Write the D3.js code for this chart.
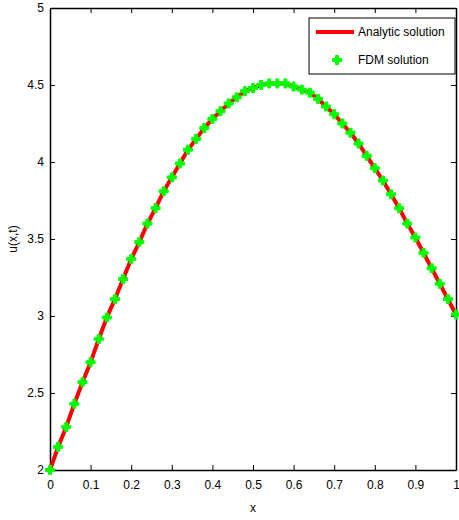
<!DOCTYPE html>
<html>
<head>
<meta charset="utf-8">
<script src="https://cdn.jsdelivr.net/npm/d3@7"></script>
<style>
  body { margin: 0; background: #fff; }
  text { font-family: "Liberation Sans", Arial, sans-serif; }
</style>
</head>
<body>
<div id="chart"></div>
<script>
// x positions of the grid nodes
var xValues = [0, 0.02, 0.04, 0.06, 0.08, 0.10, 0.12, 0.14, 0.16, 0.18,
  0.20, 0.22, 0.24, 0.26, 0.28, 0.30, 0.32, 0.34, 0.36, 0.38,
  0.40, 0.42, 0.44, 0.46, 0.48, 0.50, 0.52, 0.54, 0.56, 0.58,
  0.60, 0.62, 0.64, 0.66, 0.68, 0.70, 0.72, 0.74, 0.76, 0.78,
  0.80, 0.82, 0.84, 0.86, 0.88, 0.90, 0.92, 0.94, 0.96, 0.98, 1.00];

// analytic solution u(x,t)
var analyticValues = [2.00, 2.15, 2.28, 2.43, 2.57, 2.70, 2.85, 2.99, 3.11, 3.24,
  3.37, 3.48, 3.60, 3.70, 3.81, 3.90, 3.99, 4.08, 4.15, 4.22,
  4.28, 4.33, 4.38, 4.42, 4.46, 4.48, 4.50, 4.51, 4.51, 4.51,
  4.49, 4.47, 4.45, 4.41, 4.36, 4.31, 4.25, 4.19, 4.12, 4.04,
  3.96, 3.88, 3.79, 3.70, 3.60, 3.51, 3.41, 3.31, 3.21, 3.11, 3.01];

// FDM solution (same nodes)
var fdmValues = [2.00, 2.15, 2.28, 2.43, 2.57, 2.70, 2.85, 2.99, 3.11, 3.24,
  3.37, 3.48, 3.60, 3.70, 3.81, 3.90, 3.99, 4.08, 4.15, 4.22,
  4.28, 4.33, 4.38, 4.42, 4.46, 4.48, 4.50, 4.51, 4.51, 4.51,
  4.49, 4.47, 4.45, 4.41, 4.36, 4.31, 4.25, 4.19, 4.12, 4.04,
  3.96, 3.88, 3.79, 3.70, 3.60, 3.51, 3.41, 3.31, 3.21, 3.11, 3.01];

var xTicks = [0, 0.1, 0.2, 0.3, 0.4, 0.5, 0.6, 0.7, 0.8, 0.9, 1];
var yTicks = [2, 2.5, 3, 3.5, 4, 4.5, 5];
var legendLabels = ["Analytic solution", "FDM solution"];

var W = 459, H = 520;
var margin = { top: 8, right: 3, bottom: 50, left: 50 };
var width = W - margin.left - margin.right;
var height = H - margin.top - margin.bottom;

var svg = d3.select("#chart").append("svg")
    .attr("width", W)
    .attr("height", H);

var g = svg.append("g")
    .attr("transform", "translate(" + margin.left + "," + margin.top + ")");

var xScale = d3.scaleLinear().domain([0, 1]).range([0, width]);
var yScale = d3.scaleLinear().domain([2, 5]).range([height, 0]);

// axes, ticks pointing inwards
var xAxis = d3.axisBottom(xScale).tickValues(xTicks).tickSizeInner(-5).tickSizeOuter(0)
    .tickPadding(10).tickFormat(d3.format("~g"));
var yAxis = d3.axisLeft(yScale).tickValues(yTicks).tickSizeInner(-5).tickSizeOuter(0)
    .tickPadding(6).tickFormat(d3.format("~g"));
var xTop = d3.axisTop(xScale).tickValues(xTicks).tickSizeInner(-5).tickSizeOuter(0).tickFormat("");
var yRight = d3.axisRight(yScale).tickValues(yTicks).tickSizeInner(-5).tickSizeOuter(0).tickFormat("");

g.append("g").attr("transform", "translate(0," + height + ")").call(xAxis);
g.append("g").call(yAxis);
g.append("g").call(xTop);
g.append("g").attr("transform", "translate(" + width + ",0)").call(yRight);

g.selectAll(".domain").attr("stroke", "#000").attr("stroke-width", 1.5);
g.selectAll(".tick line").attr("stroke", "#000");
g.selectAll(".tick text").attr("fill", "#000").style("font-size", "12px");

// analytic line
var line = d3.line()
    .x((d, i) => xScale(xValues[i]))
    .y(d => yScale(d));

g.append("path")
    .datum(analyticValues)
    .attr("fill", "none")
    .attr("stroke", "#ff0000")
    .attr("stroke-width", 4)
    .attr("d", line);

// FDM markers: thick plus signs
var plus = d3.symbol().type(d3.symbolCross).size(45);
g.selectAll(".fdm")
    .data(fdmValues)
    .enter()
    .append("path")
    .attr("class", "fdm")
    .attr("d", plus)
    .attr("transform", (d, i) => "translate(" + xScale(xValues[i]) + "," + yScale(d) + ")")
    .attr("fill", "#00ff00")
    .attr("stroke", "#00ff00")
    .attr("stroke-width", 1);

// axis labels
svg.append("text")
    .attr("x", margin.left + width / 2)
    .attr("y", 512)
    .attr("text-anchor", "middle")
    .style("font-size", "12px")
    .text("x");

svg.append("text")
    .attr("transform", "translate(17," + (margin.top + height / 2) + ") rotate(-90)")
    .attr("text-anchor", "middle")
    .style("font-size", "12px")
    .text("u(x,t)");

// legend
var legend = svg.append("g");
legend.append("rect")
    .attr("x", 309).attr("y", 18)
    .attr("width", 146).attr("height", 56)
    .attr("fill", "#fff")
    .attr("stroke", "#000")
    .attr("stroke-width", 1);

legend.append("line")
    .attr("x1", 316).attr("x2", 354)
    .attr("y1", 32).attr("y2", 32)
    .attr("stroke", "#ff0000")
    .attr("stroke-width", 4);

legend.append("path")
    .attr("d", plus)
    .attr("transform", "translate(337,60)")
    .attr("fill", "#00ff00")
    .attr("stroke", "#00ff00");

legend.selectAll(".lbl")
    .data(legendLabels)
    .enter()
    .append("text")
    .attr("x", 358)
    .attr("y", (d, i) => 36 + i * 28)
    .style("font-size", "12px")
    .text(d => d);
</script>
</body>
</html>
